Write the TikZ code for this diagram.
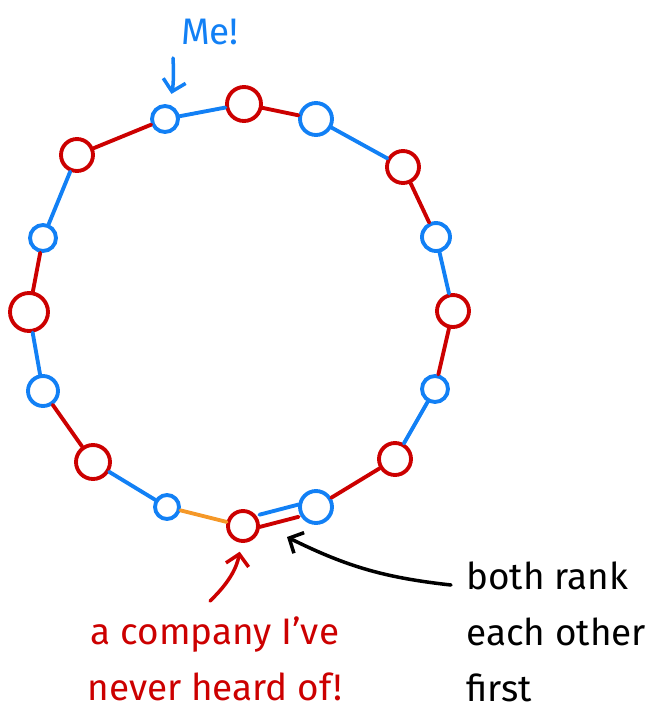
\documentclass[tikz,border=0pt]{standalone}
\usepackage{fontspec}
\setmainfont{Fira Sans}
\usetikzlibrary{arrows.meta}
\usepackage{xcolor}
\definecolor{ringred}{RGB}{204,0,0}
\definecolor{ringblue}{RGB}{18,128,245}
\definecolor{ringorange}{RGB}{245,152,40}
\tikzset{
    dot/.style={
        circle,draw=#1,line width=2.2pt,inner sep=0pt,fill=white
    },
    dot/.default=ringred,
    link/.style={
        draw=#1,line width=2.2pt,line cap=round
    },
    link/.default=ringblue,
    arrow/.style={
        -{Straight Barb[length=2.2mm,width=4.6mm]},line width=2pt,
        draw=#1,line cap=round
    },
    arrow/.default=black,
    scribble/.style={
        font=\fontsize{21}{32}\selectfont,text=#1,inner sep=0pt
    },
    scribble/.default=black
}

\begin{document}
\begin{tikzpicture}[x=0.02cm,y=-0.02cm]

\useasboundingbox (0,0) rectangle (652,714);

% the ring
\node[dot=ringblue,minimum size=0.52cm] (n1) at (165,119) {};
\node[dot=ringred,minimum size=0.68cm] (n2) at (244,104) {};
\node[dot=ringblue,minimum size=0.64cm] (n3) at (316,119) {};
\node[dot=ringred,minimum size=0.64cm] (n4) at (403,167) {};
\node[dot=ringblue,minimum size=0.56cm] (n5) at (436,237) {};
\node[dot=ringred,minimum size=0.64cm] (n6) at (453,311) {};
\node[dot=ringblue,minimum size=0.52cm] (n7) at (435,389) {};
\node[dot=ringred,minimum size=0.64cm] (n8) at (395,459) {};
\node[dot=ringblue,minimum size=0.64cm] (n9) at (316,507) {};
\node[dot=ringred,minimum size=0.60cm] (n10) at (243,526) {};
\node[dot=ringblue,minimum size=0.48cm] (n11) at (167,507) {};
\node[dot=ringred,minimum size=0.68cm] (n12) at (93,462) {};
\node[dot=ringblue,minimum size=0.60cm] (n13) at (43,391) {};
\node[dot=ringred,minimum size=0.76cm] (n14) at (29,312) {};
\node[dot=ringblue,minimum size=0.52cm] (n15) at (43,238) {};
\node[dot=ringred,minimum size=0.64cm] (n16) at (77,155) {};

\draw[link=ringred] (n16) -- (n1);
\draw[link=ringblue] (n1) -- (n2);
\draw[link=ringred] (n2) -- (n3);
\draw[link=ringblue] (n3) -- (n4);
\draw[link=ringred] (n4) -- (n5);
\draw[link=ringblue] (n5) -- (n6);
\draw[link=ringred] (n6) -- (n7);
\draw[link=ringblue] (n7) -- (n8);
\draw[link=ringred] (n8) -- (n9);
\draw[link=ringblue,transform canvas={yshift=4pt}] (n9) -- (n10);
\draw[link=ringred,transform canvas={yshift=-3pt}] (n9) -- (n10);
\draw[link=ringorange] (n10) -- (n11);
\draw[link=ringblue] (n11) -- (n12);
\draw[link=ringred] (n12) -- (n13);
\draw[link=ringblue] (n13) -- (n14);
\draw[link=ringred] (n14) -- (n15);
\draw[link=ringblue] (n15) -- (n16);

% labels
\node[scribble=ringblue,font=\fontsize{21}{26}\selectfont] (me) at (210,32) {Me!};

\node[scribble=ringred,align=center] (unknown) at (215,659)
{a company I've\\never heard of!};

\node[scribble,align=left,anchor=west] (mutual) at (466,632)
{both rank\\each other\\first};

% pointers
\coordinate (metail) at (173,58);
\coordinate (unknowntail) at (210,601);
\coordinate (mutualtail) at (451,585);

\draw[arrow=ringblue,shorten >=0.22cm] (metail) to[bend left=8] (n1);
\draw[arrow=ringred,shorten >=0.18cm] (unknowntail) to[bend right=18] (n10);
\draw[arrow] (mutualtail) to[bend left=10] (287,537);

\end{tikzpicture}
\end{document}
